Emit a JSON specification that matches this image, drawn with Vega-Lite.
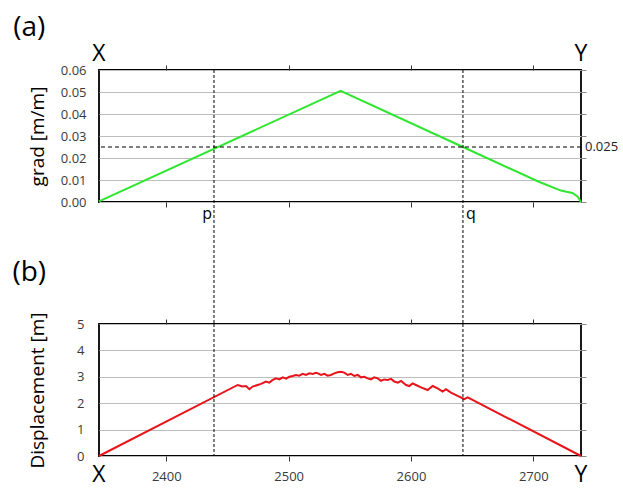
{
  "$schema": "https://vega.github.io/schema/vega-lite/v6.json",
  "background": "white",
  "padding": {"left": 11, "top": 13, "right": 0, "bottom": 0},
  "bounds": "flush",
  "spacing": 122,
  "config": {
    "view": {"stroke": "#000", "strokeWidth": 1.8},
    "font": "Open Sans",
    "axis": {
      "domain": false,
      "grid": false,
      "labelFont": "Open Sans",
      "labelFontSize": 13,
      "labelColor": "#3a3a3a",
      "titleFont": "Open Sans",
      "titleFontSize": 19,
      "titleFontWeight": "normal",
      "titleColor": "#000",
      "tickColor": "#333",
      "tickSize": 5,
      "tickWidth": 1,
      "gridColor": "#bdbdbd",
      "gridWidth": 1
    }
  },
  "vconcat": [
    {
      "width": 482,
      "height": 132,
      "resolve": {"axis": {"x": "independent", "y": "independent"}},
      "layer": [
        {
          "data": {"values": [
            {"dist": 2345, "grad": 0.0003},
            {"dist": 2542.5, "grad": 0.0505},
            {"dist": 2642.5, "grad": 0.025},
            {"dist": 2705, "grad": 0.0091},
            {"dist": 2722.6, "grad": 0.0052},
            {"dist": 2727, "grad": 0.0047},
            {"dist": 2732, "grad": 0.0041},
            {"dist": 2736.3, "grad": 0.0024},
            {"dist": 2739, "grad": 0.0}
          ]},
          "mark": {"type": "line", "color": "#2ee62e", "strokeWidth": 2},
          "encoding": {
            "x": {
              "field": "dist", "type": "quantitative",
              "scale": {"domain": [2345, 2739], "nice": false, "zero": false},
              "axis": {"orient": "bottom", "values": [2400, 2500, 2600, 2700], "labels": false, "title": null}
            },
            "y": {
              "field": "grad", "type": "quantitative",
              "scale": {"domain": [0, 0.06], "nice": false},
              "axis": {
                "orient": "left", "values": [0, 0.01, 0.02, 0.03, 0.04, 0.05, 0.06],
                "format": ".2f", "grid": true, "ticks": false, "labelPadding": 13,
                "title": "grad [m/m]", "titleX": -62, "titleY": 66, "titleAngle": -90,
                "titleAlign": "center", "titleBaseline": "middle"
              }
            }
          }
        },
        {
          "data": {"values": [{"level": 0.025}]},
          "mark": {"type": "rule", "color": "#000", "strokeWidth": 1.2, "strokeDash": [4, 3]},
          "encoding": {"y": {"field": "level", "type": "quantitative", "axis": null}}
        },
        {
          "data": {"values": [{"level": 0.025, "label": "0.025"}]},
          "mark": {"type": "text", "align": "left", "baseline": "middle", "dx": 4, "fontSize": 13, "color": "#222"},
          "encoding": {
            "x": {"datum": 2739, "type": "quantitative", "axis": null},
            "y": {"field": "level", "type": "quantitative", "axis": null},
            "text": {"field": "label"}
          }
        },
        {
          "data": {"values": [{"pos": 2439, "name": "p"}, {"pos": 2642.5, "name": "q"}]},
          "mark": {"type": "rule", "color": "#000", "strokeWidth": 1, "strokeDash": [3, 2]},
          "encoding": {
            "x": {
              "field": "pos", "type": "quantitative",
              "axis": {"orient": "top", "values": [2400, 2500, 2600, 2700], "labels": false, "title": null}
            },
            "y": {
              "datum": 0.06, "type": "quantitative",
              "axis": {"orient": "right", "values": [0, 0.01, 0.02, 0.03, 0.04, 0.05, 0.06], "labels": false, "tickColor": "#888", "title": null}
            },
            "y2": {"datum": -0.0555}
          }
        },
        {
          "data": {"values": [{"pos": 2433.3, "name": "p"}, {"pos": 2649, "name": "q"}]},
          "mark": {"type": "text", "fontSize": 16, "baseline": "middle", "color": "#000"},
          "encoding": {
            "x": {"field": "pos", "type": "quantitative", "axis": null},
            "y": {"datum": -0.0055, "type": "quantitative", "axis": null},
            "text": {"field": "name"}
          }
        },
        {
          "data": {"values": [{"label": "(a)"}]},
          "mark": {"type": "text", "fontSize": 28, "baseline": "middle", "color": "#000"},
          "encoding": {
            "x": {"datum": 2288, "type": "quantitative", "axis": null},
            "y": {"datum": 0.0791, "type": "quantitative", "axis": null},
            "text": {"field": "label"}
          }
        },
        {
          "data": {"values": [{"end": 2345, "label": "X"}, {"end": 2739, "label": "Y"}]},
          "mark": {"type": "text", "fontSize": 23, "baseline": "alphabetic", "color": "#000"},
          "encoding": {
            "x": {"field": "end", "type": "quantitative", "axis": null},
            "y": {"datum": 0.0641, "type": "quantitative", "axis": null},
            "text": {"field": "label"}
          }
        }
      ]
    },
    {
      "width": 482,
      "height": 132,
      "resolve": {"axis": {"x": "independent", "y": "independent"}},
      "layer": [
        {
          "data": {"values": [
            {"dist": 2345, "disp": 0},
            {"dist": 2458.4, "disp": 2.69},
            {"dist": 2462.4, "disp": 2.63},
            {"dist": 2465.2, "disp": 2.65},
            {"dist": 2467.9, "disp": 2.53},
            {"dist": 2470.6, "disp": 2.63},
            {"dist": 2474.7, "disp": 2.69},
            {"dist": 2477.4, "disp": 2.73},
            {"dist": 2481.5, "disp": 2.82},
            {"dist": 2484.2, "disp": 2.78},
            {"dist": 2487, "disp": 2.88},
            {"dist": 2489.7, "disp": 2.94},
            {"dist": 2492.4, "disp": 2.9},
            {"dist": 2495.2, "disp": 2.98},
            {"dist": 2497.9, "disp": 2.93},
            {"dist": 2500.6, "disp": 3.0},
            {"dist": 2503.3, "disp": 3.03},
            {"dist": 2506, "disp": 3.07},
            {"dist": 2508.7, "disp": 3.04},
            {"dist": 2511.5, "disp": 3.11},
            {"dist": 2514.2, "disp": 3.07},
            {"dist": 2516.9, "disp": 3.13},
            {"dist": 2519.7, "disp": 3.11},
            {"dist": 2522.4, "disp": 3.15},
            {"dist": 2524, "disp": 3.13},
            {"dist": 2526.5, "disp": 3.07},
            {"dist": 2529.2, "disp": 3.11},
            {"dist": 2531.9, "disp": 3.04},
            {"dist": 2534.6, "disp": 3.07},
            {"dist": 2537.3, "disp": 3.13},
            {"dist": 2540.1, "disp": 3.17},
            {"dist": 2542.8, "disp": 3.19},
            {"dist": 2545.5, "disp": 3.16},
            {"dist": 2548.3, "disp": 3.07},
            {"dist": 2551, "disp": 3.11},
            {"dist": 2553.7, "disp": 3.03},
            {"dist": 2556.5, "disp": 3.07},
            {"dist": 2559.2, "disp": 2.98},
            {"dist": 2561.9, "disp": 3.0},
            {"dist": 2564.6, "disp": 2.94},
            {"dist": 2567.3, "disp": 2.9},
            {"dist": 2570, "disp": 2.98},
            {"dist": 2572.8, "disp": 2.94},
            {"dist": 2575.5, "disp": 2.85},
            {"dist": 2578.2, "disp": 2.9},
            {"dist": 2581, "disp": 2.88},
            {"dist": 2583.7, "disp": 2.92},
            {"dist": 2586.4, "disp": 2.82},
            {"dist": 2589.2, "disp": 2.78},
            {"dist": 2591.9, "disp": 2.84},
            {"dist": 2596, "disp": 2.69},
            {"dist": 2598.6, "disp": 2.65},
            {"dist": 2601.4, "disp": 2.75},
            {"dist": 2604.1, "disp": 2.69},
            {"dist": 2608.2, "disp": 2.6},
            {"dist": 2613.7, "disp": 2.5},
            {"dist": 2617.7, "disp": 2.65},
            {"dist": 2621.8, "disp": 2.56},
            {"dist": 2625.9, "disp": 2.44},
            {"dist": 2628.6, "disp": 2.53},
            {"dist": 2632.7, "disp": 2.4},
            {"dist": 2643.6, "disp": 2.15},
            {"dist": 2646.4, "disp": 2.22},
            {"dist": 2739, "disp": 0}
          ]},
          "mark": {"type": "line", "color": "#e8141a", "strokeWidth": 2},
          "encoding": {
            "x": {
              "field": "dist", "type": "quantitative",
              "scale": {"domain": [2345, 2739], "nice": false, "zero": false},
              "axis": {"orient": "bottom", "values": [2400, 2500, 2600, 2700], "format": "d", "labelPadding": 9, "title": null}
            },
            "y": {
              "field": "disp", "type": "quantitative",
              "scale": {"domain": [0, 5], "nice": false},
              "axis": {
                "orient": "left", "values": [0, 1, 2, 3, 4, 5],
                "grid": true, "ticks": false, "labelPadding": 15,
                "title": "Displacement [m]", "titleX": -62, "titleY": 66, "titleAngle": -90,
                "titleAlign": "center", "titleBaseline": "middle"
              }
            }
          }
        },
        {
          "data": {"values": [{"pos": 2439, "name": "p"}, {"pos": 2642.5, "name": "q"}]},
          "mark": {"type": "rule", "color": "#000", "strokeWidth": 1, "strokeDash": [3, 2]},
          "encoding": {
            "x": {
              "field": "pos", "type": "quantitative",
              "axis": {"orient": "top", "values": [2400, 2500, 2600, 2700], "labels": false, "title": null}
            },
            "y": {
              "datum": 5, "type": "quantitative",
              "axis": {"orient": "right", "values": [0, 1, 2, 3, 4, 5], "labels": false, "tickColor": "#888", "title": null}
            },
            "y2": {"datum": 0}
          }
        },
        {
          "data": {"values": [{"label": "(b)"}]},
          "mark": {"type": "text", "fontSize": 28, "baseline": "middle", "color": "#000"},
          "encoding": {
            "x": {"datum": 2288, "type": "quantitative", "axis": null},
            "y": {"datum": 6.93, "type": "quantitative", "axis": null},
            "text": {"field": "label"}
          }
        },
        {
          "data": {"values": [{"end": 2345, "label": "X"}, {"end": 2739, "label": "Y"}]},
          "mark": {"type": "text", "fontSize": 23, "baseline": "alphabetic", "color": "#000"},
          "encoding": {
            "x": {"field": "end", "type": "quantitative", "axis": null},
            "y": {"datum": -1.0, "type": "quantitative", "axis": null},
            "text": {"field": "label"}
          }
        }
      ]
    }
  ]
}
